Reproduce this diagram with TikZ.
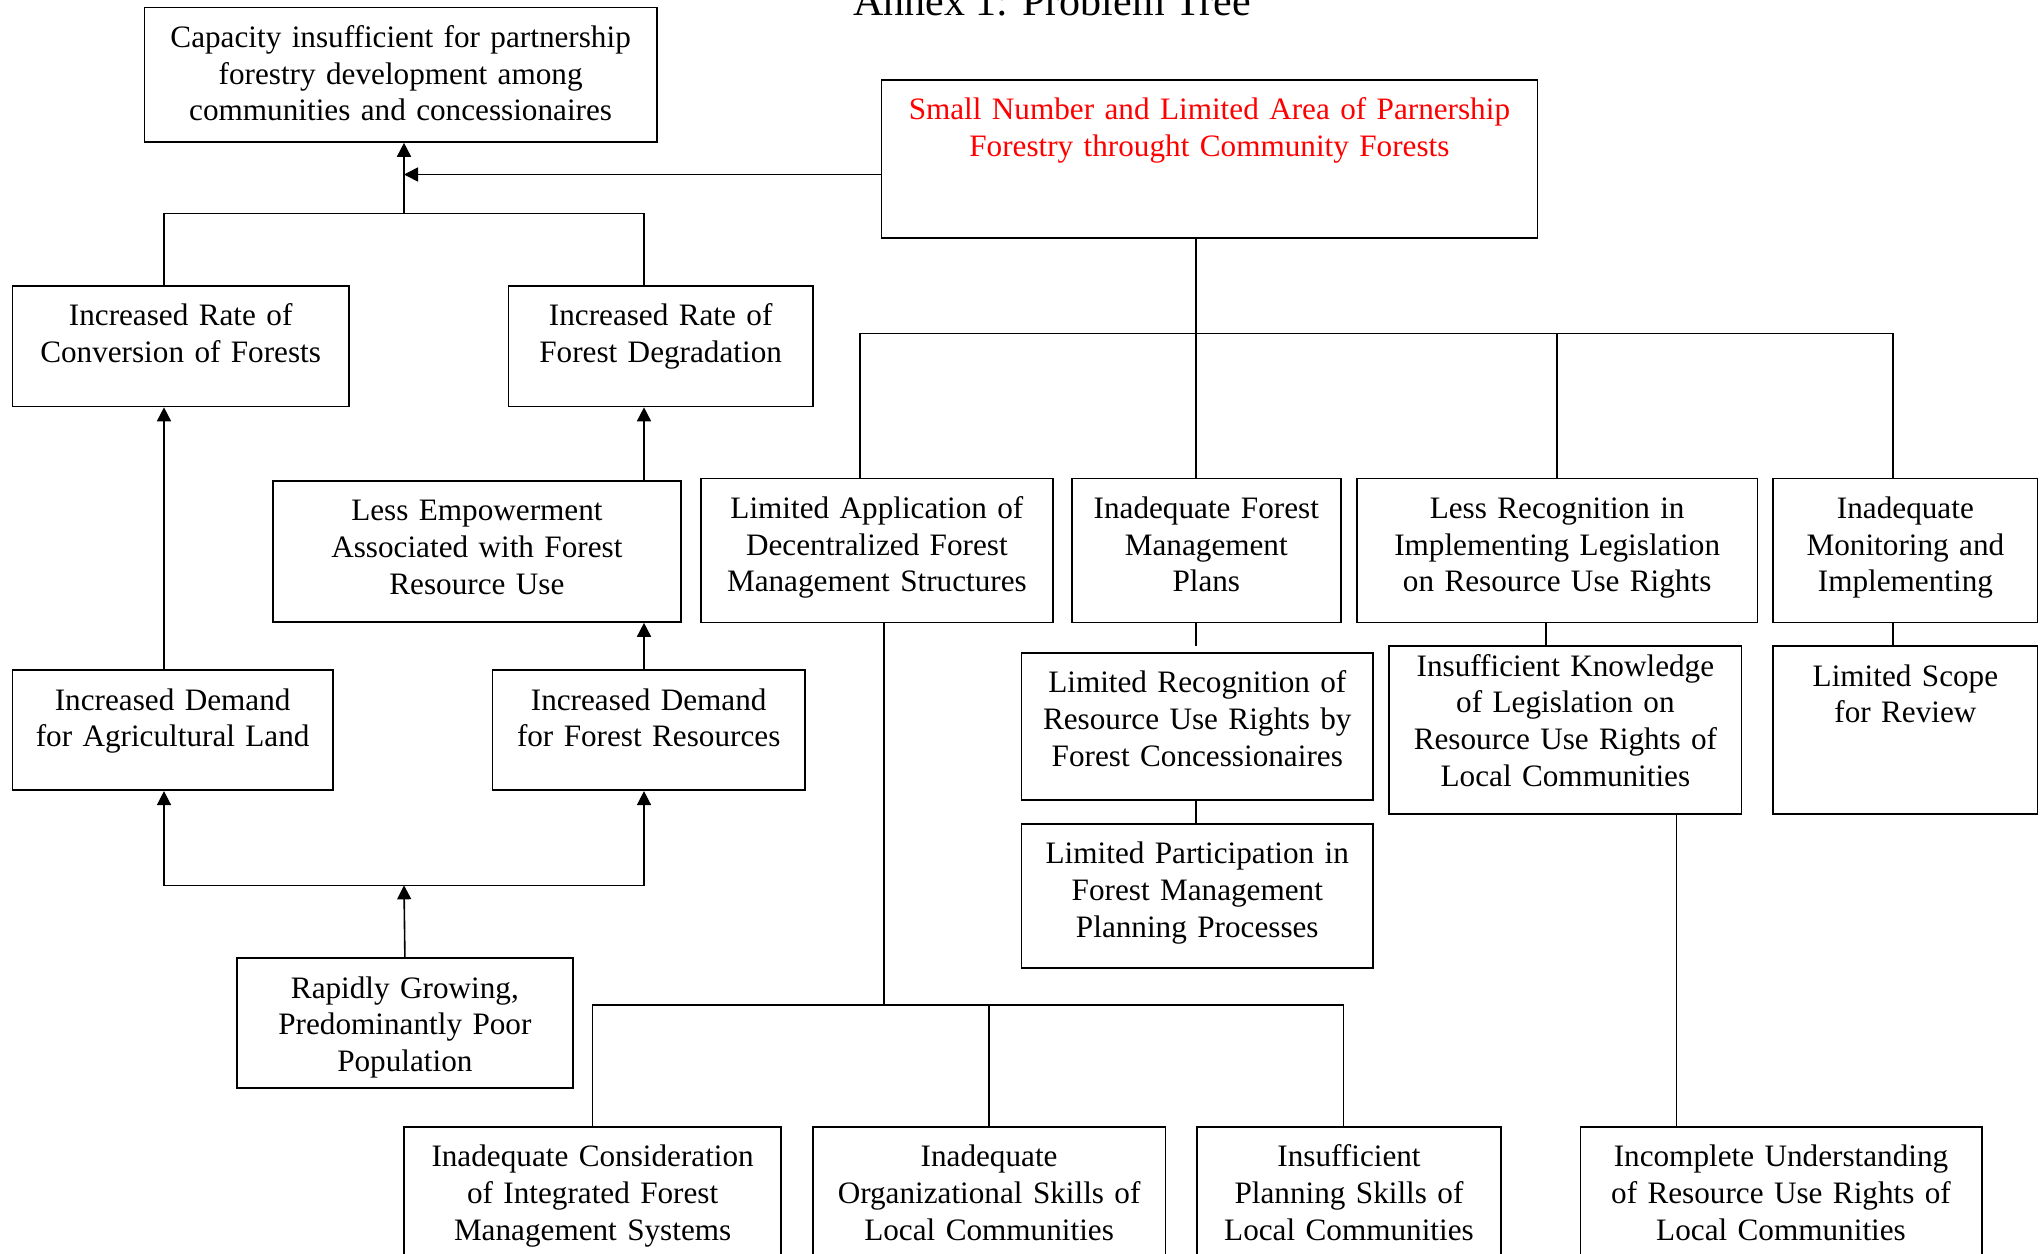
\documentclass[tikz,border=0pt]{standalone}
\usepackage{fontspec}
\setmainfont{Liberation Serif}
\usepackage{tikz}
\usetikzlibrary{arrows.meta}

\newcommand{\probfont}{\fontsize{15.6pt}{18.35pt}\selectfont}

\begin{document}
\begin{tikzpicture}[x=0.5pt, y=-0.5pt,
	prob/.style 2 args={draw, line width=0.9pt, anchor=north west,
		inner xsep=2pt, inner ysep=8pt, align=center,
		text width=#1pt-4pt, minimum width=#1pt,
		text height=12pt, text depth=#2pt-28pt, font=\probfont},
	link/.style={line width=0.8pt, black},
	arr/.style={link, -{Triangle[length=7pt, width=7pt]}}]

\useasboundingbox (0,0) rectangle (2040,1253);
\clip (0,0) rectangle (2040,1253);

\node [anchor=base, font=\fontsize{21pt}{24pt}\selectfont] (title) at (1052,15) {Annex 1: Problem Tree};

\node [prob={256.25}{67.25}] (cap) at (143.5,6.5)
	{Capacity insufficient for partnership\\forestry development among\\communities and concessionaires};
\node [prob={328}{79}, text=red] (root) at (880.5,79)
	{Small Number and Limited Area of Parnership\\Forestry throught Community Forests};

\node [prob={168.25}{60.25}] (conv) at (11.5,285) {Increased Rate of\\Conversion of Forests};
\node [prob={152.25}{60.25}] (degr) at (507.5,285) {Increased Rate of\\Forest Degradation};
\node [prob={204}{70.5}] (empw) at (272,480) {Less Empowerment\\Associated with Forest\\Resource Use};
\node [prob={160.25}{60}] (agri) at (11.5,669.3) {Increased Demand\\for Agricultural Land};
\node [prob={156.2}{60}] (fres) at (491.6,669.3) {Increased Demand\\for Forest Resources};
\node [prob={168}{64.85}] (popn) at (236,957.3) {Rapidly Growing,\\Predominantly Poor\\Population};

\node [prob={176}{72}] (decn) at (700,477.5) {Limited Application of\\Decentralized Forest\\Management Structures};
\node [prob={134.6}{72}] (plan) at (1070.8,477.5) {Inadequate Forest\\Management\\Plans};
\node [prob={200.25}{72}] (legs) at (1356,477.5) {Less Recognition in\\Implementing Legislation\\on Resource Use Rights};
\node [prob={132.1}{72}] (monr) at (1772.4,477.5) {Inadequate\\Monitoring and\\Implementing};

\node [prob={175.8}{73.65}] (conc) at (1020.6,651.7) {Limited Recognition of\\Resource Use Rights by\\Forest Concessionaires};
\node [prob={175.8}{72.3}] (part) at (1020.6,822.7) {Limited Participation in\\Forest Management\\Planning Processes};
\node [prob={176.1}{84}, inner ysep=3pt, text depth=66pt] (know) at (1388.4,645.3)
	{Insufficient Knowledge\\of Legislation on\\Resource Use Rights of\\Local Communities};
\node [prob={132.1}{84}] (scop) at (1772.4,645.3) {Limited Scope\\for Review};

\node [prob={188.45}{80}] (intg) at (403.3,1125.7) {Inadequate Consideration\\of Integrated Forest\\Management Systems};
\node [prob={176.3}{80}] (orgs) at (811.9,1125.7) {Inadequate\\Organizational Skills of\\Local Communities};
\node [prob={151.9}{80}] (plsk) at (1196.2,1125.7) {Insufficient\\Planning Skills of\\Local Communities};
\node [prob={200.6}{80}] (undr) at (1579.5,1125.7) {Incomplete Understanding\\of Resource Use Rights of\\Local Communities};

\coordinate (feed) at (404,174.5);
\coordinate (trunk) at (404,213.3);
\coordinate (lcol) at (164,0);
\coordinate (rcol) at (644,0);
\coordinate (base) at (404,885.3);
\coordinate (hub) at (1196,333.3);
\coordinate (mcol) at (860,0);
\coordinate (kcol) at (1893,0);
\coordinate (ncol) at (1546,0);
\coordinate (scol) at (1676.4,0);
\coordinate (fork) at (884,1005);
\coordinate (pcol) at (1343.4,0);

\draw [arr] (root.west |- feed) -- (feed);
\draw [arr] (trunk) -- (trunk |- cap.south);
\draw [link] (conv.north -| lcol) |- (trunk)
	-| (degr.north -| rcol);

\draw [arr] (agri.north -| lcol) -- (conv.south -| lcol);
\draw [arr] (empw.north -| rcol) -- (degr.south -| rcol);
\draw [arr] (fres.north -| rcol) -- (empw.south -| rcol);

\draw [arr] (popn.north) -- (base);
\draw [arr] (base) -| (agri.south -| lcol);
\draw [arr] (base) -| (fres.south -| rcol);

\draw [link] (root.south -| hub) -- (plan.north -| hub);
\draw [link] (decn.north -| mcol) |- (hub)
	-| (monr.north -| kcol);
\draw [link] (hub -| legs.north) -- (legs.north);

\draw [link, shorten >=3pt] (plan.south -| hub) -- (conc.north -| hub);
\draw [link] (conc.south -| hub) -- (part.north -| hub);
\draw [link] (legs.south -| ncol) -- (know.north -| ncol);
\draw [link] (monr.south -| kcol) -- (scop.north -| kcol);
\draw [link] (know.south -| scol) -- (undr.north -| scol);

\draw [link] (decn.south -| fork) -- (fork);
\draw [link] (intg.north) |- (fork)
	-| (plsk.north -| pcol);
\draw [link] (fork -| orgs.north) -- (orgs.north);

\end{tikzpicture}
\end{document}
